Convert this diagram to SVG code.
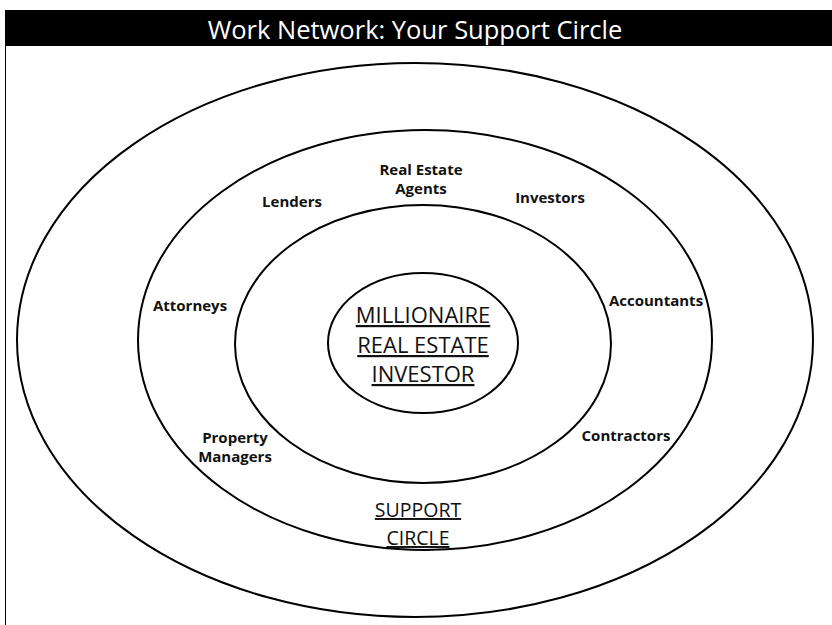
<svg xmlns="http://www.w3.org/2000/svg" width="832" height="625" viewBox="0 0 832 625">
<style>
.ring{fill:none;stroke:#000;stroke-width:2}
.lbl{font-family:"Open Sans","Liberation Sans",sans-serif;font-weight:bold;font-size:15px;fill:#111;text-anchor:middle}
.big{font-family:"Open Sans","Liberation Sans",sans-serif;font-size:22px;fill:#111;text-anchor:middle;text-decoration:underline}
.sup{font-size:19.5px}
</style>
<rect x="0" y="0" width="832" height="625" fill="#fff"/>
<line x1="5.5" y1="46" x2="5.5" y2="625" stroke="#000" stroke-width="1"/>
<g id="title">
<rect x="5" y="10" width="827" height="36" fill="#000"/>
<text x="415" y="39" font-family="Open Sans, Liberation Sans, sans-serif" font-size="25.5" fill="#fff" text-anchor="middle">Work Network: Your Support Circle</text>
</g>
<g id="outer"><ellipse class="ring" cx="415" cy="340" rx="398" ry="277"/></g>
<g id="support"><ellipse class="ring" cx="425" cy="340" rx="287" ry="210"/>
<text class="big sup" x="418" y="517">SUPPORT</text>
<text class="big sup" x="418" y="545">CIRCLE</text></g>
<g id="inner"><ellipse class="ring" cx="423" cy="344" rx="188" ry="139"/></g>
<g id="center"><ellipse class="ring" cx="423" cy="343" rx="95" ry="70"/>
<text class="big" x="423" y="323">MILLIONAIRE</text>
<text class="big" x="423" y="353">REAL ESTATE</text>
<text class="big" x="423" y="382">INVESTOR</text></g>
<g id="agents"><text class="lbl" x="421" y="175">Real Estate</text><text class="lbl" x="421" y="194">Agents</text></g>
<g id="lenders"><text class="lbl" x="292" y="207">Lenders</text></g>
<g id="investors"><text class="lbl" x="550" y="203">Investors</text></g>
<g id="attorneys"><text class="lbl" x="190" y="311">Attorneys</text></g>
<g id="accountants"><text class="lbl" x="656" y="306">Accountants</text></g>
<g id="managers"><text class="lbl" x="235" y="443">Property</text><text class="lbl" x="235" y="462">Managers</text></g>
<g id="contractors"><text class="lbl" x="626" y="441">Contractors</text></g>
</svg>
